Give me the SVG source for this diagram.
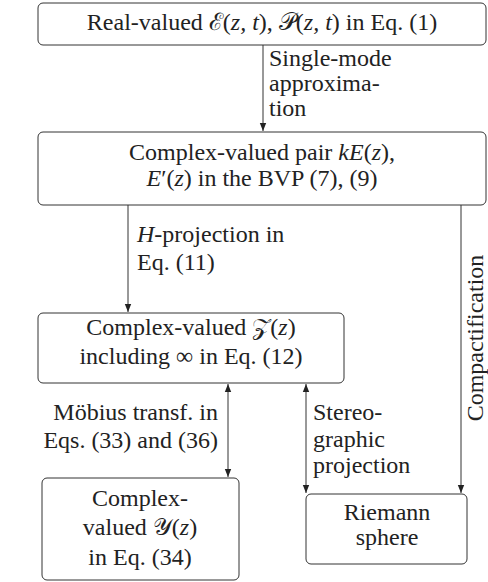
<svg xmlns="http://www.w3.org/2000/svg" width="488" height="582" viewBox="0 0 488 582">
<defs>
<marker id="ah" viewBox="0 0 10 10" refX="10" refY="5" markerWidth="8" markerHeight="8" markerUnits="userSpaceOnUse" orient="auto-start-reverse">
<path d="M0,1 L10,5 L0,9 Z" fill="#222"/>
</marker>
</defs>
<rect width="488" height="582" fill="#fff"/>
<g id="connectors" stroke="#333" stroke-width="1" fill="none">
<line x1="263" y1="45" x2="263" y2="131" marker-end="url(#ah)"/>
<line x1="128" y1="205" x2="128" y2="312" marker-end="url(#ah)"/>
<line x1="461" y1="205" x2="461" y2="493" marker-end="url(#ah)"/>
<line x1="228" y1="384" x2="228" y2="477" marker-start="url(#ah)" marker-end="url(#ah)"/>
<line x1="306" y1="384" x2="306" y2="493" marker-start="url(#ah)" marker-end="url(#ah)"/>
</g>
<g id="edge-labels" fill="#222" stroke="none">
<text font-family="Liberation Serif" font-size="24" x="269" y="66">Single-mode</text>
<text font-family="Liberation Serif" font-size="24" x="269" y="91">approxima-</text>
<text font-family="Liberation Serif" font-size="24" x="269" y="116">tion</text>
<text font-family="Liberation Serif" font-size="24" x="137" y="242"><tspan font-style="italic">H</tspan>-projection in</text>
<text font-family="Liberation Serif" font-size="24" x="137" y="270">Eq.  (11)</text>
<text font-family="Liberation Serif" font-size="24" text-anchor="middle" transform="translate(483,338) rotate(-90)">Compactification</text>
<text font-family="Liberation Serif" font-size="24" text-anchor="end" x="218" y="420">M&#246;bius transf.  in</text>
<text font-family="Liberation Serif" font-size="24" text-anchor="end" x="218" y="448">Eqs.  (33) and (36)</text>
<text font-family="Liberation Serif" font-size="24" x="313" y="420">Stereo-</text>
<text font-family="Liberation Serif" font-size="24" x="313" y="447">graphic</text>
<text font-family="Liberation Serif" font-size="24" x="313" y="473">projection</text>
</g>
<g id="n1">
<rect x="38" y="3" width="448" height="42" rx="5" fill="#fff" stroke="#333"/>
<text font-family="Liberation Serif" font-size="24" fill="#222" text-anchor="middle" x="262" y="30">Real-valued &#8496;(<tspan font-style="italic">z, t</tspan>), &#119979;(<tspan font-style="italic">z, t</tspan>) in Eq.  (1)</text>
</g>
<g id="n2">
<rect x="38" y="132" width="448" height="73" rx="5" fill="#fff" stroke="#333"/>
<text font-family="Liberation Serif" font-size="24" fill="#222" text-anchor="middle" x="262" y="160">Complex-valued pair <tspan font-style="italic">kE</tspan>(<tspan font-style="italic">z</tspan>),</text>
<text font-family="Liberation Serif" font-size="24" fill="#222" text-anchor="middle" x="262" y="186"><tspan font-style="italic">E</tspan>&#8242;(<tspan font-style="italic">z</tspan>) in the BVP (7), (9)</text>
</g>
<g id="n3">
<rect x="38" y="313" width="306" height="70" rx="5" fill="#fff" stroke="#333"/>
<text font-family="Liberation Serif" font-size="24" fill="#222" text-anchor="middle" x="191" y="335">Complex-valued &#119989;(<tspan font-style="italic">z</tspan>)</text>
<text font-family="Liberation Serif" font-size="24" fill="#222" text-anchor="middle" x="191" y="364">including &#8734; in Eq.  (12)</text>
</g>
<g id="n4">
<rect x="42" y="478" width="197" height="102" rx="5" fill="#fff" stroke="#333"/>
<text font-family="Liberation Serif" font-size="24" fill="#222" text-anchor="middle" x="140" y="506">Complex-</text>
<text font-family="Liberation Serif" font-size="24" fill="#222" text-anchor="middle" x="140" y="535">valued &#119988;(<tspan font-style="italic">z</tspan>)</text>
<text font-family="Liberation Serif" font-size="24" fill="#222" text-anchor="middle" x="140" y="565">in Eq.  (34)</text>
</g>
<g id="n5">
<rect x="306" y="494" width="161" height="70" rx="5" fill="#fff" stroke="#333"/>
<text font-family="Liberation Serif" font-size="24" fill="#222" text-anchor="middle" x="387" y="520">Riemann</text>
<text font-family="Liberation Serif" font-size="24" fill="#222" text-anchor="middle" x="387" y="545">sphere</text>
</g>
</svg>
